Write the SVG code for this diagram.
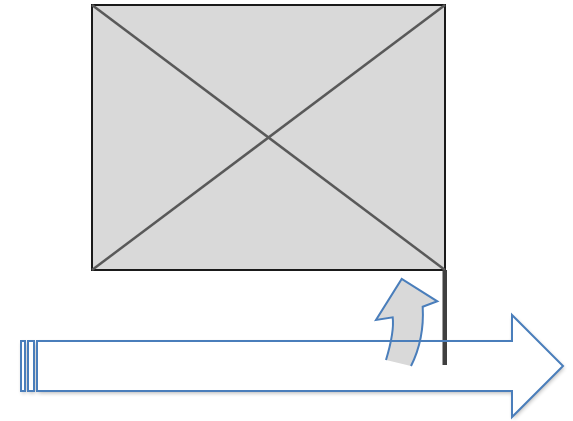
<svg xmlns="http://www.w3.org/2000/svg" width="573" height="421" viewBox="0 0 573 421">
<defs>
<filter id="sh" x="-10%" y="-20%" width="120%" height="150%">
<feGaussianBlur in="SourceAlpha" stdDeviation="2"/>
<feOffset dx="1" dy="2" result="b"/>
<feComponentTransfer><feFuncA type="linear" slope="0.3"/></feComponentTransfer>
<feMerge><feMergeNode/><feMergeNode in="SourceGraphic"/></feMerge>
</filter>
<style>
.blue{fill:none;stroke:#4a7ebb;stroke-width:2;stroke-linejoin:miter}
.diag{stroke:#595959;stroke-width:2.5}
</style>
</defs>
<rect width="573" height="421" fill="#ffffff"/>
<g id="frame">
<rect x="92" y="5" width="353" height="265" fill="#d9d9d9" stroke="#1a1a1a" stroke-width="2"/>
<line class="diag" x1="92" y1="5" x2="445" y2="270"/>
<line class="diag" x1="445" y1="5" x2="92" y2="270"/>
</g>
<g id="big-arrow" filter="url(#sh)">
<path d="M37,341 H512 V315 L563,366 L512,417 V391 H37 Z" fill="#ffffff" stroke="none"/>
<rect x="21" y="341" width="4" height="50" fill="#ffffff"/>
<rect x="28" y="341" width="6" height="50" fill="#ffffff"/>
</g>
<g id="curved-arrow">
<path d="M386,360 C392,340 394,328 392.7,317.3 L376,320 L401.7,279 L437.3,301.3 L422.7,306.7 C424,330 419,350 411,366 Z" fill="#d9d9d9" stroke="none"/>
<path class="blue" d="M386,360 C392,340 394,328 392.7,317.3 L376,320 L401.7,279 L437.3,301.3 L422.7,306.7 C424,330 419,350 411,366"/>
</g>
<g id="pole">
<rect x="442.5" y="270" width="4.5" height="95" fill="#404040"/>
</g>
<g id="big-arrow-outline">
<path class="blue" d="M37,341 H512 V315 L563,366 L512,417 V391 H37 Z"/>
<rect class="blue" x="21" y="341" width="4" height="50"/>
<rect class="blue" x="28" y="341" width="6" height="50"/>
</g>
</svg>
